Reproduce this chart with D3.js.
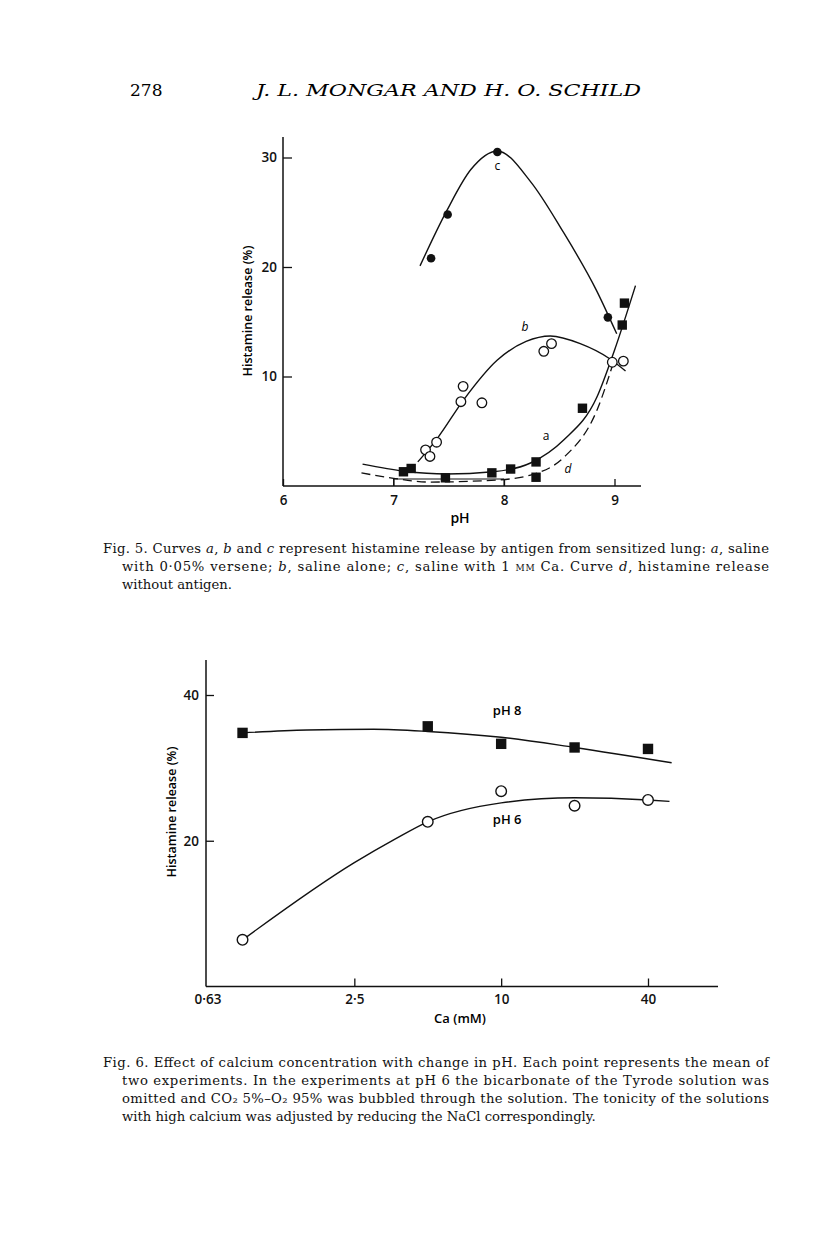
<!DOCTYPE html>
<html>
<head>
<meta charset="utf-8">
<script src="https://cdn.jsdelivr.net/npm/d3@7"></script>
<style>
  body { margin: 0; background: #fff; }
  svg { display: block; }
  .tick text { font-family: "Open Sans", sans-serif; font-weight: 600; font-size: 13.5px; fill: #111; }
</style>
</head>
<body>
<div id="page"></div>
<script>
// ---- Fig. 5 data (pH, histamine release %) ----
const curveC_pts = [[7.34, 20.8], [7.49, 24.8], [7.94, 30.5], [8.94, 15.4]];
const curveB_pts = [[7.29, 3.3], [7.33, 2.7], [7.39, 4.0], [7.61, 7.7], [7.63, 9.1], [7.80, 7.6],
                    [8.36, 12.3], [8.43, 13.0], [8.98, 11.3], [9.08, 11.4]];
const curveA_pts = [[7.09, 1.3], [7.16, 1.6], [7.47, 0.75], [7.89, 1.2], [8.06, 1.55], [8.29, 2.2],
                    [8.29, 0.8], [8.71, 7.1], [9.07, 14.7], [9.09, 16.7]];
// fitted (hand-drawn) curves
const curveC_line = [[7.24, 20.1], [7.48, 25.1], [7.7, 28.9], [7.94, 30.6], [8.24, 27.8], [8.53, 23.3], [8.84, 17.8], [9.02, 13.9]];
const curveB_line = [[7.22, 2.2], [7.4, 4.4], [7.63, 7.8], [7.94, 11.5], [8.2, 13.2], [8.42, 13.7], [8.69, 13.0], [8.96, 11.6], [9.1, 10.5]];
const curveA_line = [[6.72, 2.0], [7.1, 1.35], [7.48, 1.1], [7.9, 1.3], [8.24, 2.1], [8.54, 4.2], [8.84, 8.1], [9.0, 12.4], [9.19, 18.3]];
const curveD_line = [[6.71, 1.2], [7.0, 0.7], [7.33, 0.36], [7.94, 0.55], [8.24, 1.0], [8.54, 2.6], [8.84, 6.9], [9.0, 11.6]];
const fig5_xticks = [6, 7, 8, 9];
const fig5_yticks = [10, 20, 30];

// ---- Fig. 6 data (Ca mM, histamine release %) ----
const ph8_pts = [[0.87, 34.8], [5, 35.7], [10, 33.3], [20, 32.8], [40, 32.6]];
const ph6_pts = [[0.87, 6.4], [5, 22.6], [10, 26.8], [20, 24.8], [40, 25.6]];
const ph8_line = [[0.87, 34.8], [1.6, 35.2], [3, 35.3], [5, 35.0], [10, 34.2], [20, 32.8], [50, 30.7]];
const ph6_line = [[0.87, 6.4], [2.5, 17], [3.7, 20.3], [5, 22.6], [10, 25.2], [20, 25.9], [40, 25.6], [49, 25.4]];
const fig6_xticks = [0.625, 2.5, 10, 40];
const fig6_xlabels = ["0·63", "2·5", "10", "40"];
const fig6_yticks = [20, 40];

const W = 816, H = 1234;
const svg = d3.select("#page").append("svg")
  .attr("width", W).attr("height", H)
  .attr("viewBox", [0, 0, W, H]);

const serif = "'DejaVu Serif', serif";
const sans = "'Open Sans', sans-serif";

// running head
svg.append("text").attr("x", 130).attr("y", 96)
  .attr("font-family", serif).attr("font-size", 17).text("278");
svg.append("text").attr("x", 256).attr("y", 96)
  .attr("font-family", serif).attr("font-size", 17).attr("font-style", "italic")
  .attr("textLength", 385).attr("lengthAdjust", "spacingAndGlyphs")
  .text("J. L. MONGAR AND H. O. SCHILD");

// ================= Fig. 5 =================
const x5 = d3.scaleLinear().domain([6, 9]).range([283, 614.5]);
const y5 = d3.scaleLinear().domain([0, 30]).range([486, 157.5]);
const g5 = svg.append("g");

g5.append("line").attr("x1", 283).attr("x2", 641).attr("y1", y5(0)).attr("y2", y5(0))
  .attr("stroke", "#111").attr("stroke-width", 1.5);
g5.append("line").attr("x1", 283).attr("x2", 283).attr("y1", y5(0)).attr("y2", 137)
  .attr("stroke", "#111").attr("stroke-width", 1.5);

g5.append("g").attr("transform", `translate(0,${y5(0)})`)
  .call(d3.axisBottom(x5).tickValues(fig5_xticks).tickSizeInner(-7).tickSizeOuter(0).tickPadding(9).tickFormat(d3.format("d")))
  .call(g => g.select(".domain").remove())
  .call(g => g.selectAll(".tick line").attr("stroke", "#111").attr("stroke-width", 1.3));
// small bracket between 7 and 8 on the axis
g5.append("path")
  .attr("d", `M${x5(7)},${y5(0)}V${y5(0) - 7}H${x5(8)}V${y5(0)}`)
  .attr("fill", "none").attr("stroke", "#111").attr("stroke-width", 1);

g5.append("g").attr("transform", "translate(283,0)")
  .call(d3.axisLeft(y5).tickValues(fig5_yticks).tickSizeInner(-9).tickSizeOuter(0).tickPadding(6))
  .call(g => g.select(".domain").remove())
  .call(g => g.selectAll(".tick line").attr("stroke", "#111").attr("stroke-width", 1.3));

g5.append("text").attr("x", 460).attr("y", 523).attr("text-anchor", "middle")
  .attr("font-family", sans).attr("font-weight", 600).attr("font-size", 14).text("pH");
g5.append("text").attr("transform", "translate(252,311) rotate(-90)").attr("text-anchor", "middle")
  .attr("font-family", sans).attr("font-weight", 600).attr("font-size", 12.5).text("Histamine release (%)");

const line5 = d3.line().x(d => x5(d[0])).y(d => y5(d[1])).curve(d3.curveMonotoneX);
[curveC_line, curveB_line, curveA_line].forEach(c => {
  g5.append("path").attr("d", line5(c)).attr("fill", "none").attr("stroke", "#111").attr("stroke-width", 1.4);
});
g5.append("path").attr("d", line5(curveD_line)).attr("fill", "none").attr("stroke", "#111")
  .attr("stroke-width", 1.3).attr("stroke-dasharray", "9,5");

g5.selectAll("circle.c").data(curveC_pts).join("circle").attr("class", "c")
  .attr("cx", d => x5(d[0])).attr("cy", d => y5(d[1])).attr("r", 4.3).attr("fill", "#111");
g5.selectAll("circle.b").data(curveB_pts).join("circle").attr("class", "b")
  .attr("cx", d => x5(d[0])).attr("cy", d => y5(d[1])).attr("r", 4.8)
  .attr("fill", "#fff").attr("stroke", "#111").attr("stroke-width", 1.3);
g5.selectAll("rect.a").data(curveA_pts).join("rect").attr("class", "a")
  .attr("x", d => x5(d[0]) - 4.7).attr("y", d => y5(d[1]) - 4.7).attr("width", 9.4).attr("height", 9.4)
  .attr("fill", "#111");

const lab5 = [["c", 7.94, 28.9, "normal"], ["b", 8.19, 14.2, "italic"], ["a", 8.38, 4.2, "normal"], ["d", 8.58, 1.2, "italic"]];
g5.selectAll("text.lab").data(lab5).join("text").attr("class", "lab")
  .attr("x", d => x5(d[1])).attr("y", d => y5(d[2])).attr("text-anchor", "middle")
  .attr("font-family", sans).attr("font-size", 12).attr("font-style", d => d[3]).text(d => d[0]);

// captions
function caption(lines, x0, x1, y0, indent) {
  lines.forEach((parts, i) => {
    const t = svg.append("text").attr("x", i === 0 ? x0 : x0 + indent).attr("y", y0 + i * 18)
      .attr("font-family", serif).attr("font-size", 13.2).attr("fill", "#111");
    if (i < lines.length - 1) t.attr("textLength", x1 - (i === 0 ? x0 : x0 + indent)).attr("lengthAdjust", "spacing");
    parts.forEach(p => {
      const s = t.append("tspan").text(p[0]);
      if (p[1] === "i") s.attr("font-style", "italic");
      if (p[1] === "sc") s.attr("font-variant", "small-caps");
    });
  });
}
caption([
  [["Fig. 5.  Curves "], ["a", "i"], [", "], ["b", "i"], [" and "], ["c", "i"], [" represent histamine release by antigen from sensitized lung: "], ["a", "i"], [", saline"]],
  [["with 0·05% versene; "], ["b", "i"], [", saline alone; "], ["c", "i"], [", saline with 1 "], ["mm", "sc"], [" Ca.  Curve "], ["d", "i"], [", histamine release"]],
  [["without antigen."]]
], 103, 769, 553, 19);

// ================= Fig. 6 =================
const x6 = d3.scaleLog().base(4).domain([0.625, 40]).range([207.5, 648]);
const y6 = d3.scaleLinear().domain([0, 40]).range([986.5, 695]);
const g6 = svg.append("g");

g6.append("line").attr("x1", 206).attr("x2", 718).attr("y1", y6(0)).attr("y2", y6(0))
  .attr("stroke", "#111").attr("stroke-width", 1.5);
g6.append("line").attr("x1", 206).attr("x2", 206).attr("y1", y6(0)).attr("y2", 660)
  .attr("stroke", "#111").attr("stroke-width", 1.5);

g6.append("g").attr("transform", `translate(0,${y6(0)})`)
  .call(d3.axisBottom(x6).tickValues(fig6_xticks).tickSizeInner(-8).tickSizeOuter(0).tickPadding(8)
    .tickFormat((d, i) => fig6_xlabels[i]))
  .call(g => g.select(".domain").remove())
  .call(g => g.selectAll(".tick line").attr("stroke", "#111").attr("stroke-width", 1.3))
  .call(g => g.select(".tick line").remove());

g6.append("g").attr("transform", "translate(206,0)")
  .call(d3.axisLeft(y6).tickValues(fig6_yticks).tickSizeInner(-8).tickSizeOuter(0).tickPadding(7))
  .call(g => g.select(".domain").remove())
  .call(g => g.selectAll(".tick line").attr("stroke", "#111").attr("stroke-width", 1.3));

g6.append("text").attr("x", 460).attr("y", 1023).attr("text-anchor", "middle")
  .attr("font-family", sans).attr("font-weight", 600).attr("font-size", 13).text("Ca (mM)");
g6.append("text").attr("transform", "translate(176,812) rotate(-90)").attr("text-anchor", "middle")
  .attr("font-family", sans).attr("font-weight", 600).attr("font-size", 12.5).text("Histamine release (%)");

const line6 = d3.line().x(d => x6(d[0])).y(d => y6(d[1])).curve(d3.curveMonotoneX);
[ph8_line, ph6_line].forEach(c => {
  g6.append("path").attr("d", line6(c)).attr("fill", "none").attr("stroke", "#111").attr("stroke-width", 1.4);
});
g6.selectAll("rect.p8").data(ph8_pts).join("rect").attr("class", "p8")
  .attr("x", d => x6(d[0]) - 5.2).attr("y", d => y6(d[1]) - 5.2).attr("width", 10.4).attr("height", 10.4)
  .attr("fill", "#111");
g6.selectAll("circle.p6").data(ph6_pts).join("circle").attr("class", "p6")
  .attr("cx", d => x6(d[0])).attr("cy", d => y6(d[1])).attr("r", 5.3)
  .attr("fill", "#fff").attr("stroke", "#111").attr("stroke-width", 1.4);

const lab6 = [["pH 8", 10, 37.3], ["pH 6", 10, 22.3]];
g6.selectAll("text.lab").data(lab6).join("text").attr("class", "lab")
  .attr("x", d => x6(d[1]) + 6).attr("y", d => y6(d[2])).attr("text-anchor", "middle")
  .attr("font-family", sans).attr("font-weight", 600).attr("font-size", 13).text(d => d[0]);

caption([
  [["Fig. 6.  Effect of calcium concentration with change in pH.  Each point represents the mean of"]],
  [["two experiments.  In the experiments at pH 6 the bicarbonate of the Tyrode solution was"]],
  [["omitted and CO₂ 5%–O₂ 95% was bubbled through the solution. The tonicity of the solutions"]],
  [["with high calcium was adjusted by reducing the NaCl correspondingly."]]
], 103, 769, 1067, 19);
</script>
</body>
</html>
